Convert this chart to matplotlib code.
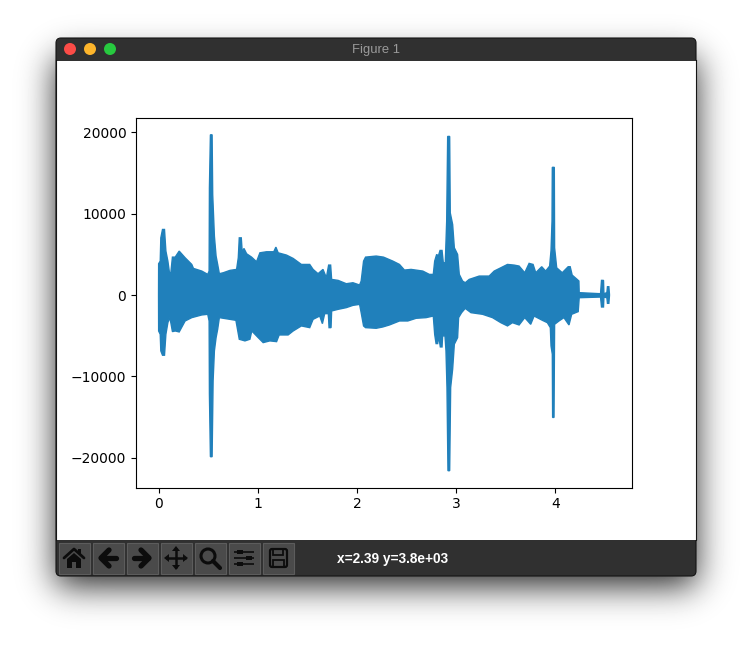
import math

import matplotlib

matplotlib.use("Agg")
import matplotlib.pyplot as plt
import numpy as np
from matplotlib.patches import Circle, FancyBboxPatch, Polygon, Rectangle

# waveform envelope: (seconds, amplitude)
upper_t = [0, 0.001, 0.017, 0.023, 0.04, 0.06, 0.074, 0.094, 0.11, 0.124, 0.14, 0.168, 0.208, 0.268, 0.335,
           0.352, 0.436, 0.496, 0.51, 0.513, 0.523, 0.54, 0.546, 0.563, 0.58, 0.596, 0.613, 0.653, 0.72, 0.787,
           0.804, 0.814, 0.834, 0.844, 0.861, 0.888, 0.938, 0.988, 1.022, 1.089, 1.162, 1.183, 1.206, 1.29,
           1.357, 1.44, 1.524, 1.558, 1.608, 1.658, 1.692, 1.715, 1.735, 1.745, 1.81, 1.893, 1.96, 2.027, 2.043,
           2.067, 2.087, 2.194, 2.268, 2.362, 2.429, 2.479, 2.546, 2.664, 2.73, 2.77, 2.784, 2.804, 2.821, 2.838,
           2.858, 2.871, 2.891, 2.905, 2.915, 2.935, 2.941, 2.965, 2.982, 3.015, 3.032, 3.065, 3.092, 3.132,
           3.233, 3.333, 3.384, 3.451, 3.518, 3.585, 3.635, 3.692, 3.736, 3.776, 3.803, 3.863, 3.903, 3.943,
           3.957, 3.967, 3.97, 3.99, 3.993, 4.014, 4.07, 4.13, 4.15, 4.17, 4.22, 4.238, 4.241, 4.456, 4.466,
           4.486, 4.49, 4.52, 4.526, 4.54, 4.546]
upper_v = [0, 3850, 4170, 7030, 8060, 8060, 5400, 4170, 2740, 2740, 4660, 4660, 5400, 4580, 3760,
           3270, 2945, 2535, 2945, 13170, 19700, 19700, 12350, 7240, 4790, 3760, 2620, 2740, 3030, 3150,
           4580, 7030, 7030, 5190, 5730, 5070, 4660, 4090, 5190, 5320, 5320, 5890, 5190, 4910,
           4500, 3760, 3760, 3150, 2620, 3150, 2130, 3680, 3680, 1920, 1800, 1390, 1510, 1230, 1720,
           4170, 4660, 4790, 4660, 4170, 3760, 3070, 3150, 2945, 2535, 2535, 4170, 4990, 4790, 5480,
           5480, 3970, 3970, 9080, 19500, 19500, 10100, 8670, 5810, 4990, 2535, 1720, 1510, 1920,
           2330, 2330, 2945, 3350, 3760, 3680, 3560, 2740, 3890, 3760, 2740, 3480, 2945, 3560,
           5480, 9080, 15700, 15700, 5810, 3350, 2740, 3480, 3480, 2450, 1920, 1720, 290, 160, 1800,
           1800, 160, 290, 1020, 1020, 80]
lower_t = [0, 0.001, 0.017, 0.023, 0.04, 0.06, 0.074, 0.094, 0.11, 0.124, 0.14, 0.168, 0.208, 0.268, 0.335,
           0.436, 0.496, 0.51, 0.513, 0.523, 0.54, 0.55, 0.563, 0.58, 0.596, 0.613, 0.72, 0.78, 0.814, 0.871,
           0.921, 0.94, 1.005, 1.055, 1.122, 1.19, 1.216, 1.306, 1.357, 1.44, 1.524, 1.558, 1.625, 1.652, 1.675,
           1.712, 1.719, 1.739, 1.745, 1.81, 1.893, 1.96, 2.027, 2.043, 2.067, 2.087, 2.194, 2.26, 2.328, 2.429,
           2.513, 2.597, 2.697, 2.77, 2.784, 2.798, 2.814, 2.824, 2.841, 2.858, 2.864, 2.888, 2.898, 2.908, 2.918,
           2.935, 2.945, 2.965, 2.982, 3.015, 3.025, 3.055, 3.092, 3.15, 3.267, 3.367, 3.451, 3.518, 3.568, 3.635,
           3.692, 3.752, 3.786, 3.87, 3.92, 3.95, 3.957, 3.97, 3.973, 3.987, 3.993, 4.037, 4.087, 4.138, 4.165,
           4.231, 4.241, 4.456, 4.466, 4.486, 4.49, 4.52, 4.526, 4.54, 4.546]
lower_v = [0, -4420, -4830, -6870, -7400, -7400, -4830, -3400, -2780, -3400, -4500, -4420, -4540, -3190, -2780,
           -2450, -2370, -3190, -12190, -19880, -19880, -10550, -6870, -5240, -4210, -2780, -2990, -3110, -5440, -5640,
           -5440, -4420, -5240, -5850, -5640, -5730, -4910, -4910, -4420, -3800, -4010, -2990, -2580, -3520, -2290,
           -2290, -4010, -4010, -1960, -1760, -1550, -1270, -1150, -2170, -3800, -4010, -4090, -3930, -3680, -3190,
           -3190, -2860, -2780, -2580, -4830, -5970, -5970, -5030, -6380, -6380, -5030, -5030, -6870, -11370, -21600,
           -21600, -11370, -9120, -6050, -5240, -2780, -2170, -1640, -2170, -2370, -2780, -3400, -3800, -3400, -3680,
           -2780, -3600, -2580, -3110, -3400, -4010, -6260, -7280, -15050, -15050, -3600, -3190, -2780, -3680, -2370,
           -2040, -330, -250, -1470, -1470, -250, -330, -1020, -1020, -80]

title_text = "Figure 1"
status_text = "x=2.39 y=3.8e+03"

W, H = 752, 650
WIN_L, WIN_R, WIN_T, WIN_B = 56, 696, 38, 576
BAR_DARK = "#303030"
UI_FONT = ["Liberation Sans", "DejaVu Sans"]


def shadow_image() -> np.ndarray:
    """Soft drop shadow of the window, as a grey image."""
    erf = np.vectorize(math.erf)
    xs = np.arange(W) + 0.5
    ys = np.arange(H) + 0.5
    sig = 24.0
    fx = 0.5 * (erf((xs - WIN_L) / sig) - erf((xs - WIN_R) / sig))
    fy = 0.5 * (erf((ys - WIN_T - 20) / sig) - erf((ys - WIN_B - 10) / sig))
    return 1.0 - 0.85 * np.outer(fy, fx)


def draw_icons(bg) -> None:
    dark = "#0c0c0c"
    kw = dict(color=dark, solid_capstyle="butt", zorder=5)
    rnd = dict(color=dark, solid_capstyle="round", solid_joinstyle="round", zorder=5)

    # home
    bg.plot([64, 74, 84], [558, 549, 558], lw=2, **rnd)
    bg.add_patch(Polygon([(67, 559), (74, 553), (81, 559), (81, 568), (76, 568), (76, 562),
                          (72, 562), (72, 568), (67, 568)], color=dark, lw=0, zorder=5))
    bg.add_patch(Rectangle((78, 549), 3, 5, color=dark, lw=0, zorder=5))
    # back / forward
    bg.plot([102, 116], [558, 558], lw=3.8, **rnd)
    bg.plot([109, 101, 109], [550, 558, 566], lw=3.8, **rnd)
    bg.plot([134, 148], [558, 558], lw=3.8, **rnd)
    bg.plot([141, 149, 141], [550, 558, 566], lw=3.8, **rnd)
    # pan
    bg.plot([166, 186], [558, 558], lw=1.8, **kw)
    bg.plot([176, 176], [548, 568], lw=1.8, **kw)
    for pts in ([(176, 546), (172, 551), (180, 551)], [(176, 570), (172, 565), (180, 565)],
                [(164, 558), (169, 554), (169, 562)], [(188, 558), (183, 554), (183, 562)]):
        bg.add_patch(Polygon(pts, color=dark, lw=0, zorder=5))
    # zoom
    bg.add_patch(Circle((208, 556), 7, fill=False, ec=dark, lw=2.2, zorder=5))
    bg.plot([213, 220], [561, 568], lw=3, **rnd)
    # subplots sliders
    for y, x in zip((552, 558, 564), (240, 249, 240)):
        bg.plot([234, 254], [y, y], lw=1.2, **kw)
        bg.add_patch(Rectangle((x - 3, y - 2), 6, 4, color=dark, lw=0, zorder=5))
    # save
    bg.add_patch(FancyBboxPatch((270, 549), 17, 18, boxstyle="round,pad=0,rounding_size=2",
                                fill=False, ec=dark, lw=1.6, zorder=5))
    bg.add_patch(Rectangle((273, 549), 10, 6, fill=False, ec=dark, lw=1.3, zorder=5))
    bg.add_patch(Rectangle((273, 560), 11, 7, fill=False, ec=dark, lw=1.3, zorder=5))


def draw_window(bg) -> None:
    bg.imshow(shadow_image(), cmap="gray", vmin=0, vmax=1, extent=(0, W, H, 0), aspect="auto", zorder=0)
    bg.add_patch(FancyBboxPatch((WIN_L, WIN_T), WIN_R - WIN_L, WIN_B - WIN_T,
                                boxstyle="round,pad=0,rounding_size=5", fc=BAR_DARK, ec="#151515", lw=0.8, zorder=1))
    bg.add_patch(Rectangle((WIN_L, 60), WIN_R - WIN_L, 480, color="white", lw=0, zorder=2))
    bg.plot([WIN_L, WIN_L], [60, 540], color="#151515", lw=0.8, zorder=3)
    bg.plot([WIN_R, WIN_R], [60, 540], color="#151515", lw=0.8, zorder=3)
    bg.plot([WIN_L, WIN_R], [59.5, 59.5], color="#0a0a0a", lw=0.6, zorder=3)

    for x, c in zip((70, 90, 110), ("#fc4c47", "#fdb52b", "#27c93f")):
        bg.add_patch(Circle((x, 49), 6, color=c, lw=0, zorder=3))
    bg.text(376, 49.5, title_text, color="#9a9a9a", fontsize=9.4, ha="center", va="center", family=UI_FONT, zorder=3)

    for i in range(7):
        bg.add_patch(Rectangle((58.5 + 34 * i, 542.5), 31, 31, fc="#4a4a4a", ec="#5c5c5c", lw=0.8, zorder=3))
    draw_icons(bg)
    bg.text(337, 558.5, status_text, color="white", fontsize=9.8, ha="left", va="center", family=UI_FONT,
            weight="bold", zorder=3)


fig = plt.figure(figsize=(W / 100, H / 100), dpi=100)

bg = fig.add_axes((0, 0, 1, 1), zorder=0)
bg.set_xlim(0, W)
bg.set_ylim(H, 0)
bg.axis("off")
draw_window(bg)
bg.set_xlim(0, W)
bg.set_ylim(H, 0)

ax = fig.add_axes((136 / W, 1 - 487.5 / H, 496 / W, 369.5 / H), zorder=1)
xs = np.r_[upper_t, lower_t[::-1]]
ys = np.r_[upper_v, lower_v[::-1]]
ax.fill(xs, ys, fc="#2080bb", ec="#2080bb", lw=1.0)
ax.margins(0.05)
ax.set_xticks([0, 1, 2, 3, 4])
ax.set_yticks([-20000, -10000, 0, 10000, 20000])
ax.set_yticklabels(["\u221220000", "\u221210000", "0", "10000", "20000"])

fig.savefig("out.png", dpi=100)
plt.close(fig)
